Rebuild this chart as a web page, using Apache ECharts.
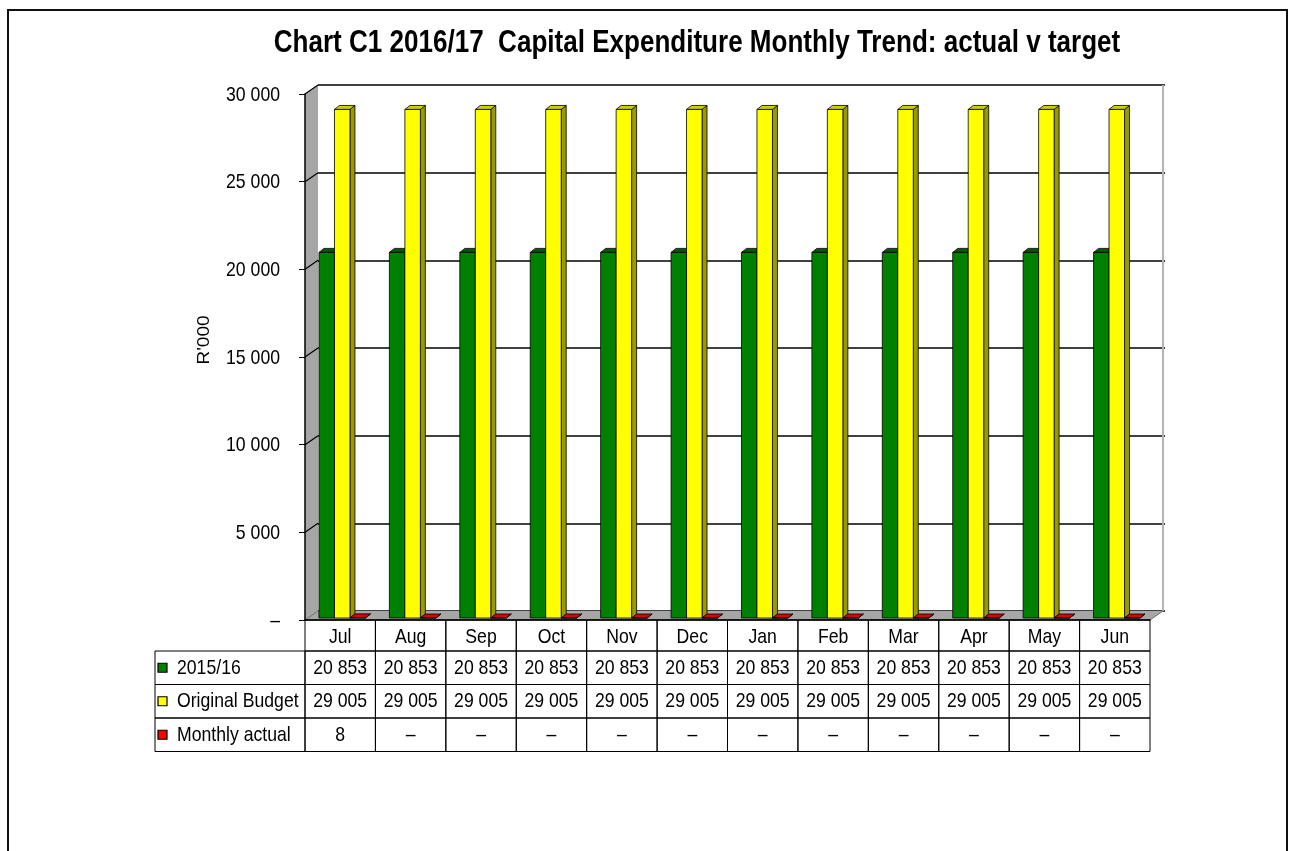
<!DOCTYPE html>
<html><head><meta charset="utf-8">
<script src="https://cdn.jsdelivr.net/npm/echarts@6/dist/echarts.min.js"></script>
<style>html,body{margin:0;padding:0;background:#fff;}#c{width:1293px;height:851px;}</style>
</head><body><div id="c"></div>
<script>
// ---- data ----
const categories = ['Jul','Aug','Sep','Oct','Nov','Dec','Jan','Feb','Mar','Apr','May','Jun'];
const seriesNames = ['2015/16','Original Budget','Monthly actual'];
const prior = [20853,20853,20853,20853,20853,20853,20853,20853,20853,20853,20853,20853];
const budget = [29005,29005,29005,29005,29005,29005,29005,29005,29005,29005,29005,29005];
const actual = [8,0,0,0,0,0,0,0,0,0,0,0];
const yMin = 0, yMax = 30000, yStep = 5000;
const titleText = 'Chart C1 2016/17  Capital Expenditure Monthly Trend: actual v target';
const yName = "R'000";

// ---- styles / layout ----
const FONT = "'Liberation Sans',Arial,sans-serif";
const NARROW = 0.84;
const FRONT = ['#008000','#ffff00','#ff0000'];
const SIDE = ['#004000','#999900','#800000'];
const TOPC = ['#005a00','#cccc00','#e00000'];
const GRID = {left:305, top:94, width:845, height:526};
const DEPTH = {dx:13, dy:-9};
const BAR = {frac:0.22, shiftX:2, shiftY:-2, dx:5, dy:-4};
const TABLE = {top:620, headerH:31, rowH:33.5, labelLeft:155};
const seriesData = [prior, budget, actual];

function fmt(v){ return v === 0 ? '–' : String(v).replace(/\B(?=(\d{3})+(?!\d))/g,' '); }

function txt(x, y, s, size, align, extra){
  return Object.assign({type:'text', x:x, y:y, scaleX:NARROW,
    style:{text:s, font:size+'px '+FONT, fill:'#000', align:align, verticalAlign:'middle'}}, extra||{});
}

const chart = echarts.init(document.getElementById('c'), null, {renderer:'canvas'});

function wallsRender(params, api){
  const cs = params.coordSys;
  const L = cs.x, R = cs.x + cs.width, T = cs.y, B = cs.y + cs.height;
  const dx = DEPTH.dx, dy = DEPTH.dy;
  const ch = [];
  ch.push({type:'polygon', shape:{points:[[L,T],[L+dx,T+dy],[L+dx,B+dy],[L,B]]}, style:{fill:'#a6a6a6', stroke:'none'}});
  ch.push({type:'polygon', shape:{points:[[L,B],[L+dx,B+dy],[R+dx,B+dy],[R,B]]}, style:{fill:'#a6a6a6', stroke:'none'}});
  ch.push({type:'line', shape:{x1:R+dx,y1:T+dy,x2:R+dx,y2:B+dy}, style:{stroke:'#b4b4b4', lineWidth:2}});
  ch.push({type:'line', shape:{x1:R,y1:B,x2:R+dx,y2:B+dy}, style:{stroke:'#707070', lineWidth:1}});
  for (let v = yMin; v <= yMax; v += yStep){
    const y = api.coord([0, v])[1];
    ch.push({type:'line', shape:{x1:L,y1:y,x2:L+dx,y2:y+dy}, style:{stroke: v===yMin ? '#808080' : '#000', lineWidth:1.2}});
    ch.push(txt(L - 25, y + 1, fmt(v), 21, 'right'));
  }
  return {type:'group', children:ch};
}

function barRender(k){
  return function(params, api){
    const i = api.value(0), v = api.value(1);
    const base = api.coord([i, 0]);
    const top = api.coord([i, v]);
    const bw = api.size([1, 0])[0];
    const w = bw * BAR.frac;
    const x0 = base[0] - 1.5*w + k*w + BAR.shiftX;
    const yb = base[1] + BAR.shiftY, yt = top[1] + BAR.shiftY;
    const dx = BAR.dx, dy = BAR.dy;
    const st = {stroke:'#000', lineWidth:0.8};
    return {type:'group', children:[
      {type:'polygon', shape:{points:[[x0+w,yb],[x0+w,yt],[x0+w+dx,yt+dy],[x0+w+dx,yb+dy]]}, style:Object.assign({fill:SIDE[k]}, st)},
      {type:'polygon', shape:{points:[[x0,yt],[x0+w,yt],[x0+w+dx,yt+dy],[x0+dx,yt+dy]]}, style:Object.assign({fill:TOPC[k]}, st)},
      {type:'rect', shape:{x:x0,y:yt,width:w,height:Math.max(yb-yt,0)}, style:Object.assign({fill:FRONT[k]}, st)}
    ]};
  };
}

function tableRender(params, api){
  const i = api.value(0);
  const c = api.coord([i, 0]);
  const bw = api.size([1, 0])[0];
  const x0 = c[0] - bw/2;
  const ch = [];
  const lineSt = {fill:'none', stroke:'#000', lineWidth:1};
  ch.push({type:'rect', shape:{x:x0,y:TABLE.top,width:bw,height:TABLE.headerH}, style:lineSt});
  ch.push(txt(c[0], TABLE.top + TABLE.headerH/2 + 2, categories[i], 21, 'center'));
  for (let r = 0; r < seriesData.length; r++){
    const y = TABLE.top + TABLE.headerH + r*TABLE.rowH;
    ch.push({type:'rect', shape:{x:x0,y:y,width:bw,height:TABLE.rowH}, style:lineSt});
    ch.push(txt(c[0], y + TABLE.rowH/2, fmt(seriesData[r][i]), 21, 'center'));
  }
  return {type:'group', children:ch};
}

function labelRender(params, api){
  const r = api.value(0);
  const y = TABLE.top + TABLE.headerH + r*TABLE.rowH;
  return {type:'group', children:[
    {type:'rect', shape:{x:TABLE.labelLeft,y:y,width:GRID.left-TABLE.labelLeft,height:TABLE.rowH}, style:{fill:'none', stroke:'#000', lineWidth:1}},
    {type:'rect', shape:{x:TABLE.labelLeft+3,y:y+TABLE.rowH/2-4.5,width:9,height:9}, style:{fill:FRONT[r], stroke:'#000', lineWidth:1.2}},
    txt(TABLE.labelLeft+22, y+TABLE.rowH/2, seriesNames[r], 21, 'left')
  ]};
}

const option = {
  animation:false,
  backgroundColor:'#fff',
  grid:[
    {left:GRID.left, top:GRID.top, width:GRID.width, height:GRID.height},
    {left:GRID.left+DEPTH.dx, top:GRID.top+DEPTH.dy, width:GRID.width+2, height:GRID.height}
  ],
  xAxis:[
    {type:'category', gridIndex:0, data:categories, axisLine:{lineStyle:{color:'#000', width:1.5}}, axisTick:{show:false}, axisLabel:{show:false}, splitLine:{show:false}, z:5},
    {type:'category', gridIndex:1, data:categories, show:false}
  ],
  yAxis:[
    {type:'value', gridIndex:0, min:yMin, max:yMax, interval:yStep,
      axisLine:{show:true, lineStyle:{color:'#000', width:1.5}},
      axisTick:{show:true, length:6, lineStyle:{color:'#000'}},
      axisLabel:{show:false},
      splitLine:{show:false}, z:5},
    {type:'value', gridIndex:1, min:yMin, max:yMax, interval:yStep,
      axisLine:{show:false}, axisTick:{show:false}, axisLabel:{show:false},
      splitLine:{show:true, lineStyle:{color:'#000', width:1.5}}}
  ],
  graphic:[
    {type:'rect', shape:{x:8,y:10,width:1279,height:900}, style:{fill:'none', stroke:'#111', lineWidth:2}, z:100},
    {type:'text', x:697, y:43, scaleX:NARROW, style:{text:titleText, font:'bold 31px '+FONT, fill:'#000', align:'center', verticalAlign:'middle'}},
    {type:'text', x:205, y:340, rotation:Math.PI/2, scaleY:NARROW, style:{text:yName, font:'19px '+FONT, fill:'#000', align:'center', verticalAlign:'middle'}}
  ],
  series:[
    {type:'custom', name:'walls', xAxisIndex:0, yAxisIndex:0, data:[[0]], renderItem:wallsRender, clip:false, z:1, silent:true},
    {type:'custom', name:seriesNames[0], xAxisIndex:0, yAxisIndex:0, data:prior.map((v,i)=>[i,v]), renderItem:barRender(0), clip:false, z:3},
    {type:'custom', name:seriesNames[1], xAxisIndex:0, yAxisIndex:0, data:budget.map((v,i)=>[i,v]), renderItem:barRender(1), clip:false, z:3},
    {type:'custom', name:seriesNames[2], xAxisIndex:0, yAxisIndex:0, data:actual.map((v,i)=>[i,v]), renderItem:barRender(2), clip:false, z:3},
    {type:'custom', name:'table', xAxisIndex:0, yAxisIndex:0, data:categories.map((c,i)=>[i]), renderItem:tableRender, clip:false, z:4},
    {type:'custom', name:'labels', coordinateSystem:'none', data:seriesNames.map((n,r)=>[r]), renderItem:labelRender, z:4}
  ]
};
chart.setOption(option);
</script></body></html>
